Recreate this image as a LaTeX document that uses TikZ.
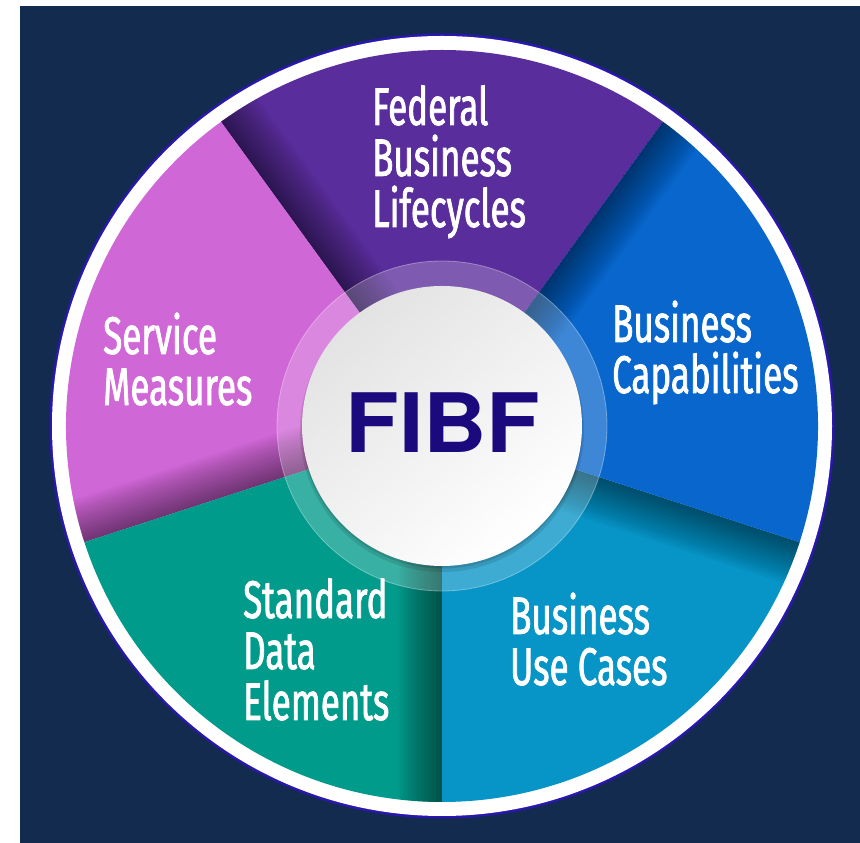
\documentclass[tikz,border=0pt]{standalone}
\usepackage{fontspec}
\newfontfamily\lblfont[FakeStretch=0.66, FakeBold=1.4]{Fira Sans}
\newfontfamily\ttlfont[FakeStretch=1.07]{TeX Gyre Heros}
\usetikzlibrary{calc}
\definecolor{navy}{HTML}{132B4F}
\definecolor{ringblue}{HTML}{2A17B0}
\definecolor{cpurple}{HTML}{5A2D9C}
\definecolor{cpink}{HTML}{D067D6}
\definecolor{ccap}{HTML}{0866CC}
\definecolor{cuse}{HTML}{0794C6}
\definecolor{cteal}{HTML}{009B8B}
\definecolor{fibf}{HTML}{1B0A7E}
\newcommand\mysector[3]{%
  \fill[#3] (C) -- ($(C)+(#1:376)$) arc[start angle=#1, end angle=#2, radius=376] -- cycle;
  \begin{scope}
    \clip (C) -- ($(C)+(#1:376)$) arc[start angle=#1, end angle=#2, radius=376] -- cycle;
    \foreach \k in {1,...,22}{
      \fill[black, opacity=0.022, shift={(C)}, rotate=#2] (0,-2*\k) rectangle (380,0);
    }
  \end{scope}}
\tikzset{
  lbl/.style={font=\lblfont\fontsize{53}{51}\selectfont, text=white, align=left, inner sep=0pt, anchor=base west}
}
\begin{document}
\begin{tikzpicture}[x=1pt,y=1pt]
\useasboundingbox (0,0) rectangle (860,843);
\fill[white] (0,0) rectangle (860,843);
\fill[navy] (20,0) rectangle (860,837);
\coordinate (C) at (442,417);
\fill[ringblue] (C) circle (392.5);
\fill[white] (C) circle (390);
\mysector{54}{126}{cpurple}
\mysector{126}{198}{cpink}
\mysector{198}{270}{cteal}
\mysector{270}{342}{cuse}
\mysector{-18}{54}{ccap}
% translucent ring
\fill[white, opacity=0.22] (C) circle (165);
\draw[white, opacity=0.35, line width=0.8] (C) circle (165);
% disc shadow and disc
\fill[black, opacity=0.10] ($(C)+(0,-4)$) circle (142);
\fill[black, opacity=0.12] ($(C)+(0,-2)$) circle (140.5);
\shade[shading=axis, top color=black!11, bottom color=white, shading angle=40] (C) circle (140);
\node[font=\ttlfont\bfseries\fontsize{82}{82}\selectfont, text=fibf, inner sep=0pt] (fibf) at (443,420.5) {FIBF};
% labels (anchored at the baseline of their last line)
\node[lbl] (fbl) at (372,616) {Federal\\Business\\Lifecycles};
\node[lbl] (sm) at (103,438) {Service\\Measures};
\node[lbl] (bc) at (612,450) {Business\\Capabilities};
\node[lbl] (sde) at (243,123) {Standard\\Data\\Elements};
\node[lbl] (buc) at (510,158) {Business\\Use Cases};
\end{tikzpicture}
\end{document}
